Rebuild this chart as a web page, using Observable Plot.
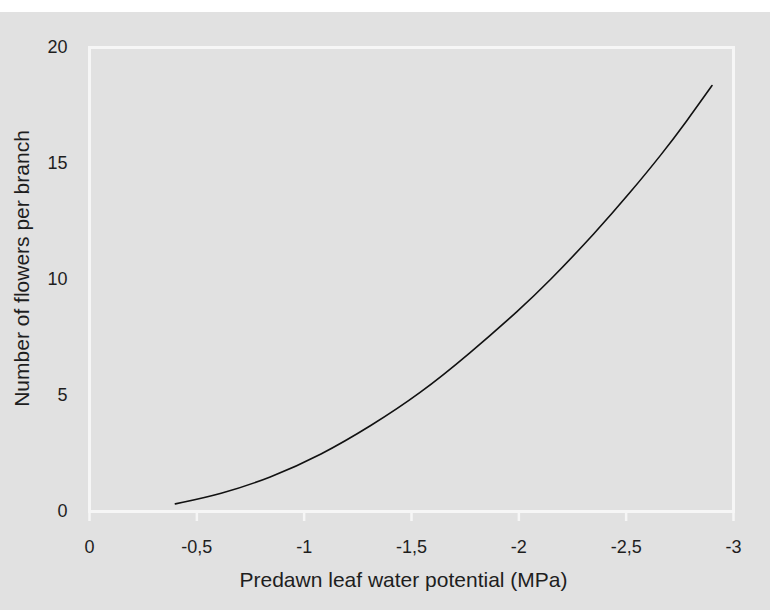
<!DOCTYPE html>
<html>
<head>
<meta charset="utf-8">
<script src="https://cdn.jsdelivr.net/npm/d3@7"></script>
<script src="https://cdn.jsdelivr.net/npm/@observablehq/plot@0.6"></script>
<style>
  html, body { margin: 0; padding: 0; background: #ffffff; }
  #chart { padding-top: 12px; }
  #chart svg { display: block; }
  #chart svg g[aria-label="x-axis tick label"],
  #chart svg g[aria-label="y-axis tick label"] { font-size: 18px; }
</style>
</head>
<body>
<div id="chart"></div>
<script>
// Predawn leaf water potential (MPa) and number of flowers per branch
const potential = [-0.40, -0.61, -0.84, -1.08, -1.31, -1.54, -1.77, -2.01, -2.13, -2.36, -2.52, -2.67, -2.78, -2.90];
const flowers   = [0.33, 0.74, 1.44, 2.44, 3.68, 5.08, 6.80, 8.76, 9.81, 12.05, 13.76, 15.45, 16.80, 18.36];
const xTicks = [0, -0.5, -1, -1.5, -2, -2.5, -3];
const yTicks = [0, 5, 10, 15, 20];
const xLabel = "Predawn leaf water potential (MPa)";
const yLabel = "Number of flowers per branch";

const data = potential.map((p, i) => ({p, f: flowers[i]}));
const fmt = d => String(d).replace(".", ",");

const chart = Plot.plot({
  width: 770,
  height: 598,
  marginLeft: 89,
  marginRight: 37,
  marginTop: 35,
  marginBottom: 99,
  style: {
    background: "#e1e1e1",
    fontFamily: "'Liberation Sans', Arial, Helvetica, sans-serif",
    color: "#1e1e1e"
  },
  x: {domain: [0, -3]},
  y: {domain: [0, 20]},
  marks: [
    Plot.frame({stroke: "#f6f6f6", strokeWidth: 3}),
    Plot.axisX({
      ticks: xTicks, tickFormat: fmt, tickSize: 10, tickPadding: 19,
      stroke: "#f6f6f6", strokeWidth: 2.5, label: null
    }),
    Plot.axisY({
      ticks: yTicks, tickSize: 0, tickPadding: 22, label: null
    }),
    Plot.text([xLabel], {
      frameAnchor: "bottom", text: d => d, textAnchor: "middle", lineAnchor: "middle",
      dy: 69, dx: -8, fontSize: 21, fill: "#1e1e1e"
    }),
    Plot.text([yLabel], {
      frameAnchor: "left", text: d => d, textAnchor: "middle", lineAnchor: "middle",
      rotate: -90, dx: -67, dy: -11, fontSize: 21, fill: "#1e1e1e"
    }),
    Plot.line(data, {x: "p", y: "f", curve: "basis", stroke: "#111", strokeWidth: 1.6})
  ]
});
document.getElementById("chart").appendChild(chart);
</script>
</body>
</html>
